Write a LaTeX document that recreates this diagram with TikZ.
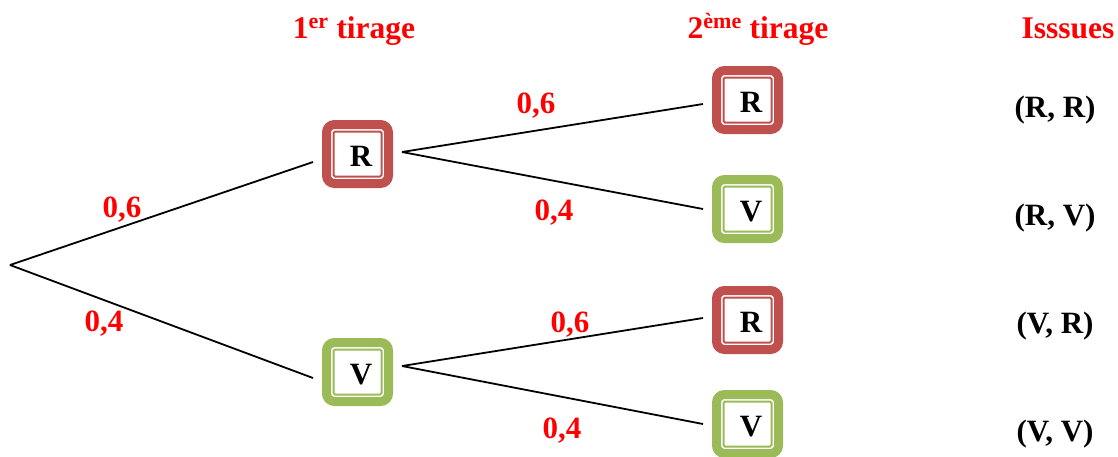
\documentclass[tikz,border=0pt]{standalone}
\usepackage{fontspec}
\setmainfont{Liberation Serif}
\definecolor{boxred}{HTML}{C0504D}
\definecolor{boxgreen}{HTML}{9BBB59}
\begin{document}
\begin{tikzpicture}[x=1pt,y=-1pt,
  outerbox/.style={draw=#1, line width=9pt, rounded corners=8pt, minimum width=62pt, minimum height=59pt, inner sep=0pt, outer sep=13.5pt, fill=white},
  innerbox/.style={draw=#1, line width=2pt, rounded corners=1.5pt, minimum width=48pt, minimum height=45pt, inner sep=0pt},
  letter/.style={font=\fontsize{31}{34}\selectfont\bfseries, inner sep=0pt, anchor=base},
  prob/.style={text=red, font=\fontsize{31}{34}\selectfont\bfseries, inner sep=0pt, anchor=base},
  head/.style={text=red, font=\fontsize{31.5}{34}\selectfont\bfseries, inner sep=0pt, anchor=base},
  issue/.style={font=\fontsize{31}{34}\selectfont\bfseries, inner sep=0pt, anchor=base},
  branch/.style={line width=1.8pt}
]
\useasboundingbox (0,0) rectangle (1118,456);

% headers
\node[head] (h1) at (354,38) {1\textsuperscript{er} tirage};
\node[head] (h2) at (758,38) {2\textsuperscript{ème} tirage};
\node[head] (h3) at (1068,38) {Isssues};

% root
\coordinate (root) at (10,265);

% first draw
\node[outerbox=boxred] (R1) at (357.5,154) {};
\node[innerbox=boxred] (R1i) at (R1) {};
\node[letter] (R1t) at ([xshift=3.5pt,yshift=-12pt]R1.center) {R};

\node[outerbox=boxgreen] (V1) at (357.5,372) {};
\node[innerbox=boxgreen] (V1i) at (V1) {};
\node[letter] (V1t) at ([xshift=3.5pt,yshift=-12pt]V1.center) {V};

% second draw
\node[outerbox=boxred] (R2a) at (747.5,100) {};
\node[innerbox=boxred] (R2ai) at (R2a) {};
\node[letter] (R2at) at ([xshift=3.5pt,yshift=-12pt]R2a.center) {R};

\node[outerbox=boxgreen] (V2a) at (747.5,209) {};
\node[innerbox=boxgreen] (V2ai) at (V2a) {};
\node[letter] (V2at) at ([xshift=3.5pt,yshift=-12pt]V2a.center) {V};

\node[outerbox=boxred] (R2b) at (747.5,320) {};
\node[innerbox=boxred] (R2bi) at (R2b) {};
\node[letter] (R2bt) at ([xshift=3.5pt,yshift=-12pt]R2b.center) {R};

\node[outerbox=boxgreen] (V2b) at (747.5,424) {};
\node[innerbox=boxgreen] (V2bi) at (V2b) {};
\node[letter] (V2bt) at ([xshift=3.5pt,yshift=-12pt]V2b.center) {V};

% branches
\draw[branch] (root) -- ([yshift=-8pt]R1.west);
\draw[branch] (root) -- ([yshift=-6pt]V1.west);
\draw[branch] ([yshift=2pt]R1.east) -- ([yshift=-4pt]R2a.west);
\draw[branch] ([yshift=2pt]R1.east) -- (V2a.west);
\draw[branch] ([yshift=6pt]V1.east) -- ([yshift=2pt]R2b.west);
\draw[branch] ([yshift=6pt]V1.east) -- (V2b.west);

% probabilities
\node[prob] (p1) at (122,217) {0,6};
\node[prob] (p2) at (104,331) {0,4};
\node[prob] (p3) at (536,113) {0,6};
\node[prob] (p4) at (554,220) {0,4};
\node[prob] (p5) at (570,332) {0,6};
\node[prob] (p6) at (562,438) {0,4};

% issues
\node[issue] (i1) at (1055,117) {(R, R)};
\node[issue] (i2) at (1055,225) {(R, V)};
\node[issue] (i3) at (1055,333) {(V, R)};
\node[issue] (i4) at (1055,441) {(V, V)};
\end{tikzpicture}
\end{document}
